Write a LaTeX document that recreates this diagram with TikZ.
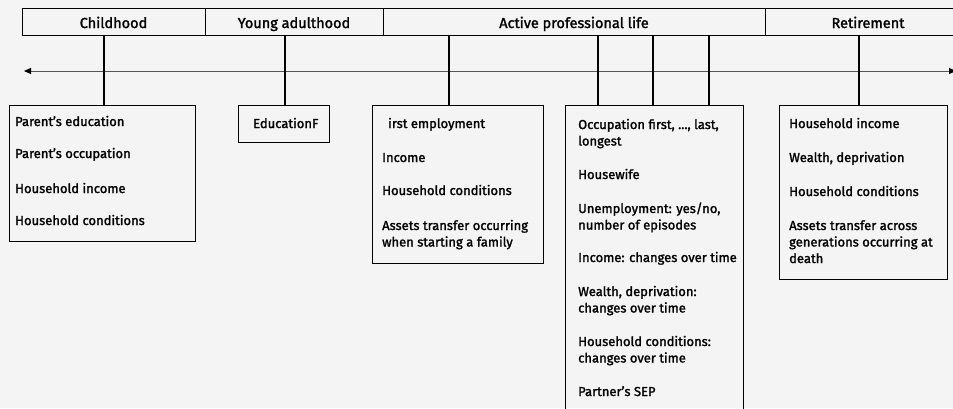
\documentclass[tikz,border=0pt]{standalone}
\usepackage{fontspec}
\setmainfont{Fira Sans}
\newfontfamily\mfont{Fira Sans}[FakeBold=1.6]
\usetikzlibrary{arrows.meta}
\definecolor{bg}{HTML}{F4F4F4}
\definecolor{axis}{HTML}{555555}
\tikzset{
  hdr/.style={draw=black, line width=1.3pt, minimum height=27pt, inner sep=0pt, anchor=north west},
  hdrtxt/.style={font=\mfont\fontsize{14.5}{16}\selectfont, anchor=base, inner sep=0pt},
  infobox/.style={draw=black, line width=1.1pt, inner sep=0pt, anchor=north west},
  item/.style={font=\mfont\fontsize{13}{16.5}\selectfont, anchor=base west, inner sep=0pt, align=left},
  conn/.style={draw=black, line width=1.1pt},
  tip/.style={Triangle[length=7pt,width=6pt,color=black]},
}
\begin{document}
\begin{tikzpicture}[x=1pt,y=-1pt]
\useasboundingbox[fill=bg] (0,0) rectangle (953,408);
% header cells
\node[hdr, minimum width=183pt] (h1) at (22,8) {};
\node[hdr, minimum width=178pt] (h2) at (205,8) {};
\node[hdr, minimum width=382pt] (h3) at (383,8) {};
\node[hdr, minimum width=206pt] (h4) at (765,8) {};
\node[hdrtxt] (t1) at (113.5,28) {Childhood};
\node[hdrtxt] (t2) at (294,28) {Young adulthood};
\node[hdrtxt] (t3) at (574,28) {Active professional life};
\node[hdrtxt] (t4) at (868,28) {Retirement};
% timeline
\coordinate (tl) at (24,71);
\coordinate (tr) at (956,71);
\draw[axis, line width=1pt, {Triangle[length=7pt,width=6pt,color=black]}-{Triangle[length=7pt,width=6pt,color=black]}] (tl) -- (tr);
% boxes
\node[infobox, minimum width=186pt, minimum height=136pt] (b1) at (9,105) {};
\node[infobox, minimum width=91pt, minimum height=37pt] (b2) at (238,105) {};
\node[infobox, minimum width=171pt, minimum height=158pt] (b3) at (372,105) {};
\node[infobox, minimum width=178pt, minimum height=320pt] (b4) at (565,105) {};
\node[infobox, minimum width=168pt, minimum height=174pt] (b5) at (779,105) {};
% connector anchors on header bottom
\coordinate (c1) at (104,35);
\coordinate (c2) at (285,35);
\coordinate (c3) at (449,35);
\coordinate (c4) at (598,35);
\coordinate (c5) at (653,35);
\coordinate (c6) at (709,35);
\coordinate (c7) at (859,35);
\draw[conn] (c1) -- (c1 |- b1.north);
\draw[conn] (c2) -- (c2 |- b2.north);
\draw[conn] (c3) -- (c3 |- b3.north);
\draw[conn] (c4) -- (c4 |- b4.north);
\draw[conn] (c5) -- (c5 |- b4.north);
\draw[conn] (c6) -- (c6 |- b4.north);
\draw[conn] (c7) -- (c7 |- b5.north);
% childhood items
\node[item] (i11) at (15,126) {Parent’s education};
\node[item] (i12) at (15,158) {Parent’s occupation};
\node[item] (i13) at (15,193) {Household income};
\node[item] (i14) at (15,225) {Household conditions};
% young adulthood
\node[item] (i21) at (253,128) {EducationF};
% first employment (base anchor = last line)
\node[item] (i31) at (388,128) {irst employment};
\node[item] (i32) at (382,162) {Income};
\node[item] (i33) at (382,195) {Household conditions};
\node[item] (i34) at (382,246.5) {Assets transfer occurring\\when starting a family};
% active
\node[item] (i41) at (578,145.5) {Occupation first, ..., last,\\longest};
\node[item] (i42) at (578,179) {Housewife};
\node[item] (i43) at (578,229.5) {Unemployment: yes/no,\\number of episodes};
\node[item] (i44) at (578,262) {Income: changes over time};
\node[item] (i45) at (578,312.5) {Wealth, deprivation:\\changes over time};
\node[item] (i46) at (578,362.5) {Household conditions:\\changes over time};
\node[item] (i47) at (578,396) {Partner’s SEP};
% retirement
\node[item] (i51) at (789,128) {Household income};
\node[item] (i52) at (789,162) {Wealth, deprivation};
\node[item] (i53) at (789,196) {Household conditions};
\node[item] (i54) at (789,263) {Assets transfer across\\generations occurring at\\death};
\end{tikzpicture}
\end{document}
